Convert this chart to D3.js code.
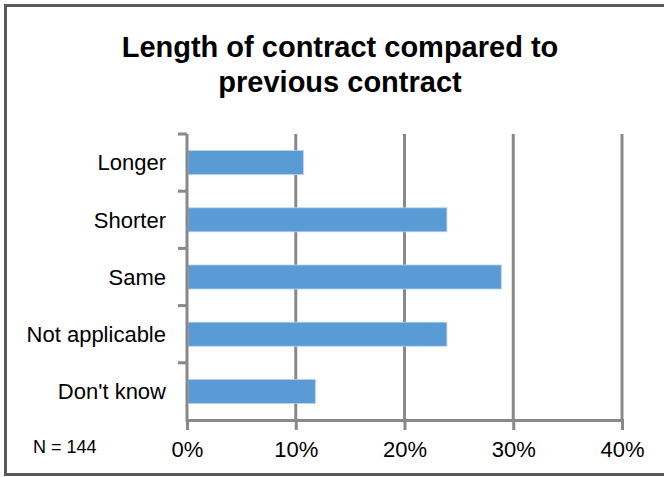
<!DOCTYPE html>
<html>
<head>
<meta charset="utf-8">
<script src="https://cdn.jsdelivr.net/npm/d3@7"></script>
<style>
  html, body { margin: 0; padding: 0; background: #fff; }
  svg { display: block; }
  text { font-family: "Liberation Sans", Arial, sans-serif; fill: #000; }
</style>
</head>
<body>
<svg id="chart" width="664" height="477"></svg>
<script>
const titleLines = ["Length of contract compared to", "previous contract"];
const categories = ["Longer", "Shorter", "Same", "Not applicable", "Don't know"];
const values = [10.7, 23.9, 28.9, 23.9, 11.8];
const xTicks = [0, 10, 20, 30, 40];
const note = "N = 144";

const svg = d3.select("#chart");
const W = 664, H = 477;

// outer frame
svg.append("rect")
  .attr("x", 5.5).attr("y", 5.5)
  .attr("width", W).attr("height", 469)
  .attr("fill", "#fff")
  .attr("stroke", "#5a5a5a").attr("stroke-width", 3);

// title
svg.append("text")
  .attr("x", 340).attr("text-anchor", "middle")
  .style("font-weight", "bold").style("font-size", "29px")
  .selectAll("tspan").data(titleLines).join("tspan")
  .attr("x", 340)
  .attr("y", (d, i) => 57 + i * 35)
  .text(d => d);

const x = d3.scaleLinear().domain([0, 40]).range([187, 622]);
const y = d3.scaleBand().domain(categories).range([134, 420])
  .paddingInner(0.58).paddingOuter(0.29);

const gridColor = "#898989";

// gridlines
svg.append("g").selectAll("line").data(xTicks.filter(d => d > 0)).join("line")
  .attr("x1", d => x(d)).attr("x2", d => x(d))
  .attr("y1", 134).attr("y2", 420)
  .attr("stroke", gridColor).attr("stroke-width", 3);

// bars
svg.append("g").selectAll("rect").data(categories).join("rect")
  .attr("x", x(0) + 1)
  .attr("y", d => y(d))
  .attr("width", (d, i) => x(values[i]) - x(0) - 1)
  .attr("height", y.bandwidth())
  .attr("fill", "#5b9bd5")
  .attr("stroke", "#b9d3ee").attr("stroke-width", 0.8);

// x axis
const xAxis = d3.axisBottom(x).tickValues(xTicks)
  .tickFormat(d => d + "%").tickSize(10).tickPadding(11);
const gx = svg.append("g").attr("transform", "translate(0,420)").call(xAxis);
gx.select(".domain").attr("stroke", gridColor).attr("stroke-width", 3);
gx.selectAll(".tick line").attr("stroke", gridColor).attr("stroke-width", 3);
gx.selectAll(".tick text")
  .style("font-size", "22px")
  .style("font-family", "'Liberation Sans', Arial, sans-serif")
  .attr("fill", "#000");

// y axis line
svg.append("line")
  .attr("x1", x(0)).attr("x2", x(0))
  .attr("y1", 134).attr("y2", 421.5)
  .attr("stroke", gridColor).attr("stroke-width", 3);

// y ticks at category boundaries
const step = y.step();
const bounds = categories.map(d => y(d) - step * y.paddingInner() / 2);
svg.append("g").selectAll("line").data(bounds).join("line")
  .attr("x1", x(0) - 9).attr("x2", x(0))
  .attr("y1", d => d).attr("y2", d => d)
  .attr("stroke", gridColor).attr("stroke-width", 3);

// category labels
svg.append("g").selectAll("text").data(categories).join("text")
  .attr("x", 166)
  .attr("y", d => y(d) + y.bandwidth() / 2)
  .attr("dy", "0.35em")
  .attr("text-anchor", "end")
  .style("font-size", "22px")
  .text(d => d);

// note
svg.append("text")
  .attr("x", 33).attr("y", 453)
  .style("font-size", "18px")
  .text(note);
</script>
</body>
</html>
